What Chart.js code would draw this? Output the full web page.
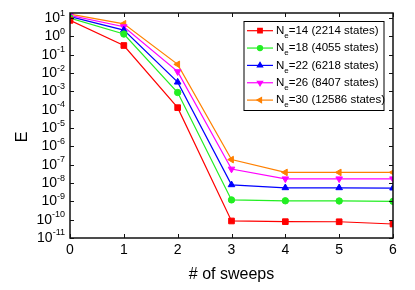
<!DOCTYPE html>
<html>
<head>
<meta charset="utf-8">
<script src="https://cdn.jsdelivr.net/npm/chart.js@4.4.1/dist/chart.umd.min.js"></script>
<style>
  html, body { margin: 0; padding: 0; background: #fff; }
  #wrap { width: 415px; height: 290px; }
</style>
</head>
<body>
<div id="wrap"><canvas id="myChart"></canvas></div>
<script>
// values
const sweeps = [0, 1, 2, 3, 4, 5, 6];
const ne14 = [7.5, 0.32, 1.3e-4, 8.5e-11, 7.8e-11, 7.7e-11, 5.8e-11];
const ne18 = [10, 1.35, 8.7e-4, 1.2e-9, 1.07e-9, 1.05e-9, 1.0e-9];
const ne22 = [12, 2.2, 3.2e-3, 8e-9, 5.5e-9, 5.5e-9, 5.3e-9];
const ne26 = [14, 3.4, 1.2e-2, 5.8e-8, 1.7e-8, 1.7e-8, 1.7e-8];
const ne30 = [16.5, 4.9, 3.0e-2, 1.9e-7, 3.8e-8, 3.8e-8, 3.8e-8];

const neValues = ['14', '18', '22', '26', '30'];
const stateCounts = ['2214', '4055', '6218', '8407', '12586'];
const yExponents = [-11, -10, -9, -8, -7, -6, -5, -4, -3, -2, -1, 0, 1];

const colors = ['#ff0000', '#22ee22', '#0000ff', '#ff00ff', '#ff8000'];
const markers = [
  { style: 'rect', rotation: 0, radius: 4 },
  { style: 'circle', rotation: 0, radius: 3.2 },
  { style: 'triangle', rotation: 0, radius: 3.8 },
  { style: 'triangle', rotation: 180, radius: 3.8 },
  { style: 'triangle', rotation: 270, radius: 3.8 }
];

const allSeries = [ne14, ne18, ne22, ne26, ne30];

const datasets = allSeries.map((vals, i) => ({
  label: 'N' + 'e=' + neValues[i] + ' (' + stateCounts[i] + ' states)',
  data: sweeps.map((s, j) => ({ x: s, y: vals[j] })),
  borderColor: colors[i],
  backgroundColor: colors[i],
  borderWidth: 1.2,
  pointStyle: markers[i].style,
  pointRotation: markers[i].rotation,
  pointRadius: markers[i].radius,
  pointBorderWidth: 1,
  tension: 0
}));

const fontName = '"Liberation Sans", Arial, sans-serif';

// frame, inward ticks, superscript y labels, y title and the boxed legend
const decorations = {
  id: 'decorations',
  afterDraw(chart) {
    const ctx = chart.ctx;
    const a = chart.chartArea;
    const xs = chart.scales.x;
    const ys = chart.scales.y;
    ctx.save();

    ctx.strokeStyle = '#111';
    ctx.lineWidth = 1.5;
    ctx.strokeRect(a.left, a.top, a.right - a.left, a.bottom - a.top);

    ctx.lineWidth = 1;
    ctx.beginPath();
    sweeps.forEach(s => {
      const px = Math.round(xs.getPixelForValue(s)) + 0.5;
      ctx.moveTo(px, a.bottom); ctx.lineTo(px, a.bottom - 4);
      ctx.moveTo(px, a.top); ctx.lineTo(px, a.top + 4);
    });
    yExponents.forEach(e => {
      const py = Math.round(ys.getPixelForValue(Math.pow(10, e))) + 0.5;
      ctx.moveTo(a.left, py); ctx.lineTo(a.left + 4, py);
      ctx.moveTo(a.right, py); ctx.lineTo(a.right - 4, py);
    });
    ctx.stroke();

    // y tick labels as 10 with a raised exponent
    ctx.fillStyle = '#000';
    ctx.textBaseline = 'middle';
    ctx.textAlign = 'left';
    yExponents.forEach(e => {
      const py = ys.getPixelForValue(Math.pow(10, e));
      const expText = String(e);
      ctx.font = '9px ' + fontName;
      const expW = ctx.measureText(expText).width;
      ctx.font = '14px ' + fontName;
      const baseW = ctx.measureText('10').width;
      const right = a.left - 5;
      ctx.fillText('10', right - expW - baseW, py);
      ctx.font = '9px ' + fontName;
      ctx.fillText(expText, right - expW, py - 5);
    });

    // y axis title
    ctx.save();
    ctx.translate(23, 137);
    ctx.rotate(-Math.PI / 2);
    ctx.textAlign = 'center';
    ctx.font = '16px ' + fontName;
    ctx.fillText('E', 0, 0);
    ctx.restore();

    // legend
    const box = { left: 244, top: 21.5, right: 384, bottom: 110.5 };
    ctx.lineWidth = 1;
    ctx.strokeStyle = '#000';
    ctx.strokeRect(box.left, box.top, box.right - box.left, box.bottom - box.top);
    neValues.forEach((ne, i) => {
      const ry = 30.7 + i * 17.35;
      ctx.strokeStyle = colors[i];
      ctx.fillStyle = colors[i];
      ctx.lineWidth = 1.2;
      ctx.beginPath();
      ctx.moveTo(247, ry); ctx.lineTo(273, ry);
      ctx.stroke();
      Chart.helpers.drawPoint(ctx, {
        pointStyle: markers[i].style,
        rotation: markers[i].rotation,
        radius: markers[i].radius * 0.8,
        borderWidth: 1
      }, 260, ry);

      ctx.fillStyle = '#000';
      ctx.textBaseline = 'middle';
      ctx.textAlign = 'left';
      ctx.font = '11.5px ' + fontName;
      let tx = 276;
      ctx.fillText('N', tx, ry);
      tx += ctx.measureText('N').width;
      ctx.font = '8px ' + fontName;
      ctx.fillText('e', tx, ry + 5);
      tx += ctx.measureText('e').width;
      ctx.font = '11.5px ' + fontName;
      ctx.fillText('=' + ne + ' (' + stateCounts[i] + ' states)', tx, ry);
    });

    ctx.restore();
  }
};

const ctx = document.getElementById('myChart');

new Chart(ctx, {
  type: 'line',
  data: { datasets: datasets },
  options: {
    responsive: true,
    maintainAspectRatio: false,
    animation: false,
    layout: { padding: { top: 13, right: 22, left: 0, bottom: 0 } },
    plugins: {
      legend: { display: false },
      tooltip: { enabled: false }
    },
    scales: {
      x: {
        type: 'linear',
        min: 0,
        max: 6,
        ticks: {
          stepSize: 1,
          color: '#000',
          padding: 4,
          font: { family: fontName, size: 14 }
        },
        grid: { display: false, drawTicks: false },
        border: { display: false },
        title: {
          display: true,
          text: '# of sweeps',
          color: '#000',
          font: { family: fontName, size: 16 },
          padding: { top: 4, bottom: 6 }
        },
        afterFit(scale) { scale.height = 52; }
      },
      y: {
        type: 'logarithmic',
        min: 1e-11,
        max: 19,
        afterBuildTicks(scale) {
          scale.ticks = yExponents.map(e => ({ value: Math.pow(10, e) }));
        },
        ticks: {
          callback: () => '',
          font: { family: fontName, size: 14 }
        },
        grid: { display: false, drawTicks: false },
        border: { display: false },
        title: { display: false },
        afterFit(scale) { scale.width = 70; }
      }
    }
  },
  plugins: [decorations]
});
</script>
</body>
</html>
